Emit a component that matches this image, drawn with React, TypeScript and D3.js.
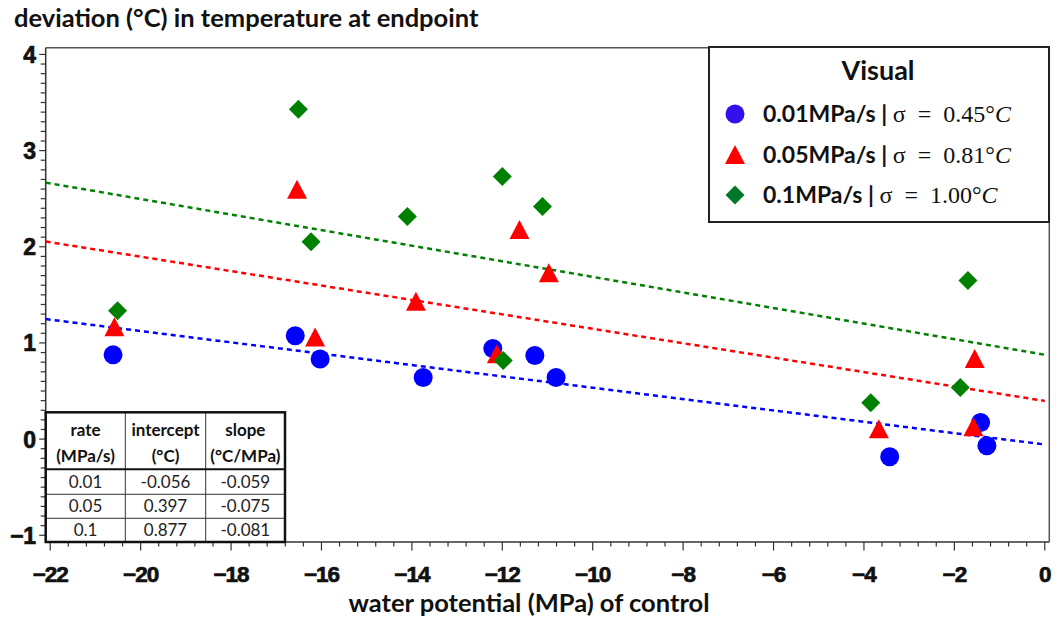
import React from "react";
import * as d3 from "d3";

// ---- data ----
const blueX = [-20.61, -16.58, -16.03, -13.75, -12.21, -11.28, -10.81, -3.43, -1.42, -1.28];
const blueY = [0.876, 1.074, 0.832, 0.64, 0.942, 0.869, 0.64, -0.184, 0.173, -0.07];
const redX = [-20.58, -16.54, -16.14, -13.91, -12.12, -11.62, -10.97, -3.67, -1.55, -1.58];
const redY = [1.169, 2.599, 1.063, 1.434, 0.887, 2.179, 1.729, 0.107, 0.838, 0.128];
const greenX = [-20.51, -16.51, -16.23, -14.1, -12.0, -11.11, -11.98, -3.85, -1.87, -1.7];
const greenY = [1.334, 3.43, 2.051, 2.314, 2.73, 2.418, 0.817, 0.377, 0.536, 1.649];

const rates = ["0.01", "0.05", "0.1"];
const intercepts = [-0.056, 0.397, 0.877];
const slopes = [-0.059, -0.075, -0.081];
const sigmas = ["0.45", "0.81", "1.00"];
const legendLabels = ["0.01MPa/s", "0.05MPa/s", "0.1MPa/s"];

const xTicks = [-22, -20, -18, -16, -14, -12, -10, -8, -6, -4, -2, 0];
const yTicks = [-1, 0, 1, 2, 3, 4];

const colors = ["#0000ff", "#ff0000", "#008000"];
const legendColors = ["#3311ee", "#ff0000", "#00782a"];
const shapes = ["circle", "triangle", "diamond"];

const W = 1056;
const H = 624;
const left = 45.7, right = 1049.3, top = 47.7, bottom = 542;

const x = d3.scaleLinear().domain([-22.1, 0.1]).range([left, right]);
const y = d3.scaleLinear().domain([-1.07, 4.07]).range([bottom, top]);

const calibri = "Lato, 'Open Sans', sans-serif";
const tickFont = "'Liberation Sans', Arial, sans-serif";
const mathFont = "'Liberation Serif', 'DejaVu Serif', serif";

function marker(shape: string, cx: number, cy: number, color: string, key: string) {
  const r = 9.5;
  if (shape === "circle") return <circle key={key} cx={cx} cy={cy} r={r} fill={color} />;
  if (shape === "triangle") {
    const w = 10, h = 9.5;
    return (
      <path key={key} d={`M${cx},${cy - h}L${cx + w},${cy + h}L${cx - w},${cy + h}Z`} fill={color} />
    );
  }
  return <path key={key} d={`M${cx},${cy - r}L${cx + r},${cy}L${cx},${cy + r}L${cx - r},${cy}Z`} fill={color} />;
}

const fmt = (v: number) => (v < 0 ? "\u2212" + Math.abs(v) : String(v));

export default function App() {
  const series = [
    { xs: blueX, ys: blueY },
    { xs: redX, ys: redY },
    { xs: greenX, ys: greenY },
  ];
  const xMinor = d3.range(0, 56).map((i) => -22 + i * 0.4).filter((v) => v <= 0.001);
  const yMinor = d3.range(0, 51).map((i) => -1 + i * 0.1);
  const line = d3.line<number[]>().x((d) => x(d[0])).y((d) => y(d[1]));

  // table geometry
  const tX = [left, 125.3, 205.7, 285];
  const tY = [412.3, 469.3, 494.3, 518.3, bottom];

  return (
    <svg width={W} height={H} style={{ position: "absolute", left: 0, top: 0, background: "#fff" }}>
      <rect x={0} y={0} width={W} height={H} fill="#fff" />
      {/* title */}
      <text x={14} y={27} fontFamily={calibri} fontWeight="bold" fontSize={25.5} fill="#111">
        deviation (°C) in temperature at endpoint
      </text>

      {/* frame */}
      <line x1={left} x2={right} y1={top} y2={top} stroke="#555" strokeWidth={1.5} />
      <line x1={right} x2={right} y1={top} y2={bottom} stroke="#555" strokeWidth={1.5} />
      <line x1={left} x2={left} y1={top} y2={bottom} stroke="#333" strokeWidth={1.5} />
      <line x1={left} x2={right} y1={bottom} y2={bottom} stroke="#333" strokeWidth={1.5} />

      {/* y ticks */}
      {yMinor.map((v, i) => (
        <line key={"ym" + i} x1={left - (Math.abs(v - Math.round(v)) < 1e-6 ? 6.5 : 5)} x2={left} y1={y(v)} y2={y(v)} stroke="#333" strokeWidth={1.2} />
      ))}
      {yTicks.map((v) => (
        <text key={"yl" + v} x={35.5} y={y(v) + 8.5} textAnchor="end" fontFamily={tickFont} fontWeight="bold" fontSize={23} stroke="#111" strokeWidth={0.7} letterSpacing={-0.5} fill="#111">
          {fmt(v)}
        </text>
      ))}

      {/* x ticks */}
      {xMinor.map((v, i) => (
        <line key={"xm" + i} x1={x(v)} x2={x(v)} y1={bottom} y2={bottom + (Math.abs(v / 2 - Math.round(v / 2)) < 1e-6 ? 8.5 : 4.5)} stroke="#333" strokeWidth={1.2} />
      ))}
      {xTicks.map((v) => (
        <text key={"xl" + v} x={x(v)} y={581.5} textAnchor="middle" fontFamily={tickFont} fontWeight="bold" fontSize={22.5} stroke="#111" strokeWidth={0.7} letterSpacing={-1} fill="#111">
          {fmt(v)}
        </text>
      ))}

      {/* x axis title */}
      <text x={529} y={612} textAnchor="middle" fontFamily={calibri} fontWeight="bold" fontSize={25.5} fill="#111">
        water potential (MPa) of control
      </text>

      {/* regression lines */}
      {intercepts.map((b, i) => (
        <path key={"reg" + i} d={line([[-22.1, b + slopes[i] * -22.1], [0, b]]) || ""} fill="none" stroke={colors[i]} strokeWidth={2.5} strokeDasharray="5,4" />
      ))}

      {/* points */}
      {series.map((s, si) => (
        <g key={"s" + si}>{s.xs.map((xv, j) => marker(shapes[si], x(xv), y(s.ys[j]), colors[si], `p${si}-${j}`))}</g>
      ))}

      {/* legend */}
      <rect x={709} y={47} width={340} height={175} fill="#fff" stroke="#222" strokeWidth={2} />
      <text x={878} y={80} textAnchor="middle" fontFamily={calibri} fontWeight="bold" fontSize={27} fill="#111">
        Visual
      </text>
      {legendLabels.map((lab, i) => {
        const cy = 114 + i * 40.5;
        return (
          <g key={"lg" + i}>
            {marker(shapes[i], 735, cy, legendColors[i], "lm" + i)}
            <text x={763} y={cy + 8} fontSize={23} fill="#111">
              <tspan fontFamily={calibri} fontWeight="bold">{lab + " | "}</tspan>
              <tspan fontFamily={mathFont} fontSize={24}>{"σ\u2002=\u2002" + sigmas[i] + "°"}</tspan>
              <tspan fontFamily={mathFont} fontSize={24} fontStyle="italic">C</tspan>
            </text>
          </g>
        );
      })}

      {/* table */}
      <rect x={tX[0]} y={tY[0]} width={tX[3] - tX[0]} height={tY[4] - tY[0]} fill="#fff" />
      {[1, 2].map((c) => (
        <line key={"tc" + c} x1={tX[c]} x2={tX[c]} y1={tY[0]} y2={tY[4]} stroke="#333" strokeWidth={1} />
      ))}
      {[2, 3].map((r) => (
        <line key={"tr" + r} x1={tX[0]} x2={tX[3]} y1={tY[r]} y2={tY[r]} stroke="#333" strokeWidth={1} />
      ))}
      <line x1={tX[0]} x2={tX[3]} y1={tY[1]} y2={tY[1]} stroke="#111" strokeWidth={2} />
      <rect x={tX[0]} y={tY[0]} width={tX[3] - tX[0]} height={tY[4] - tY[0]} fill="none" stroke="#111" strokeWidth={2.5} />
      {[["rate", "(MPa/s)"], ["intercept", "(°C)"], ["slope", "(°C/MPa)"]].map((h, c) => (
        <text key={"th" + c} x={(tX[c] + tX[c + 1]) / 2} textAnchor="middle" fontFamily={calibri} fontWeight="bold" fontSize={17} fill="#111">
          <tspan x={(tX[c] + tX[c + 1]) / 2} y={436}>{h[0]}</tspan>
          <tspan x={(tX[c] + tX[c + 1]) / 2} y={462}>{h[1]}</tspan>
        </text>
      ))}
      {rates.map((r, i) => {
        const yy = tY[i + 2] - 6;
        const vals = [r, intercepts[i].toFixed(3), slopes[i].toFixed(3)];
        return vals.map((v, c) => (
          <text key={`td${i}-${c}`} x={(tX[c] + tX[c + 1]) / 2} y={yy} textAnchor="middle" fontFamily={calibri} fontSize={17} fill="#222">
            {v}
          </text>
        ));
      })}
    </svg>
  );
}
